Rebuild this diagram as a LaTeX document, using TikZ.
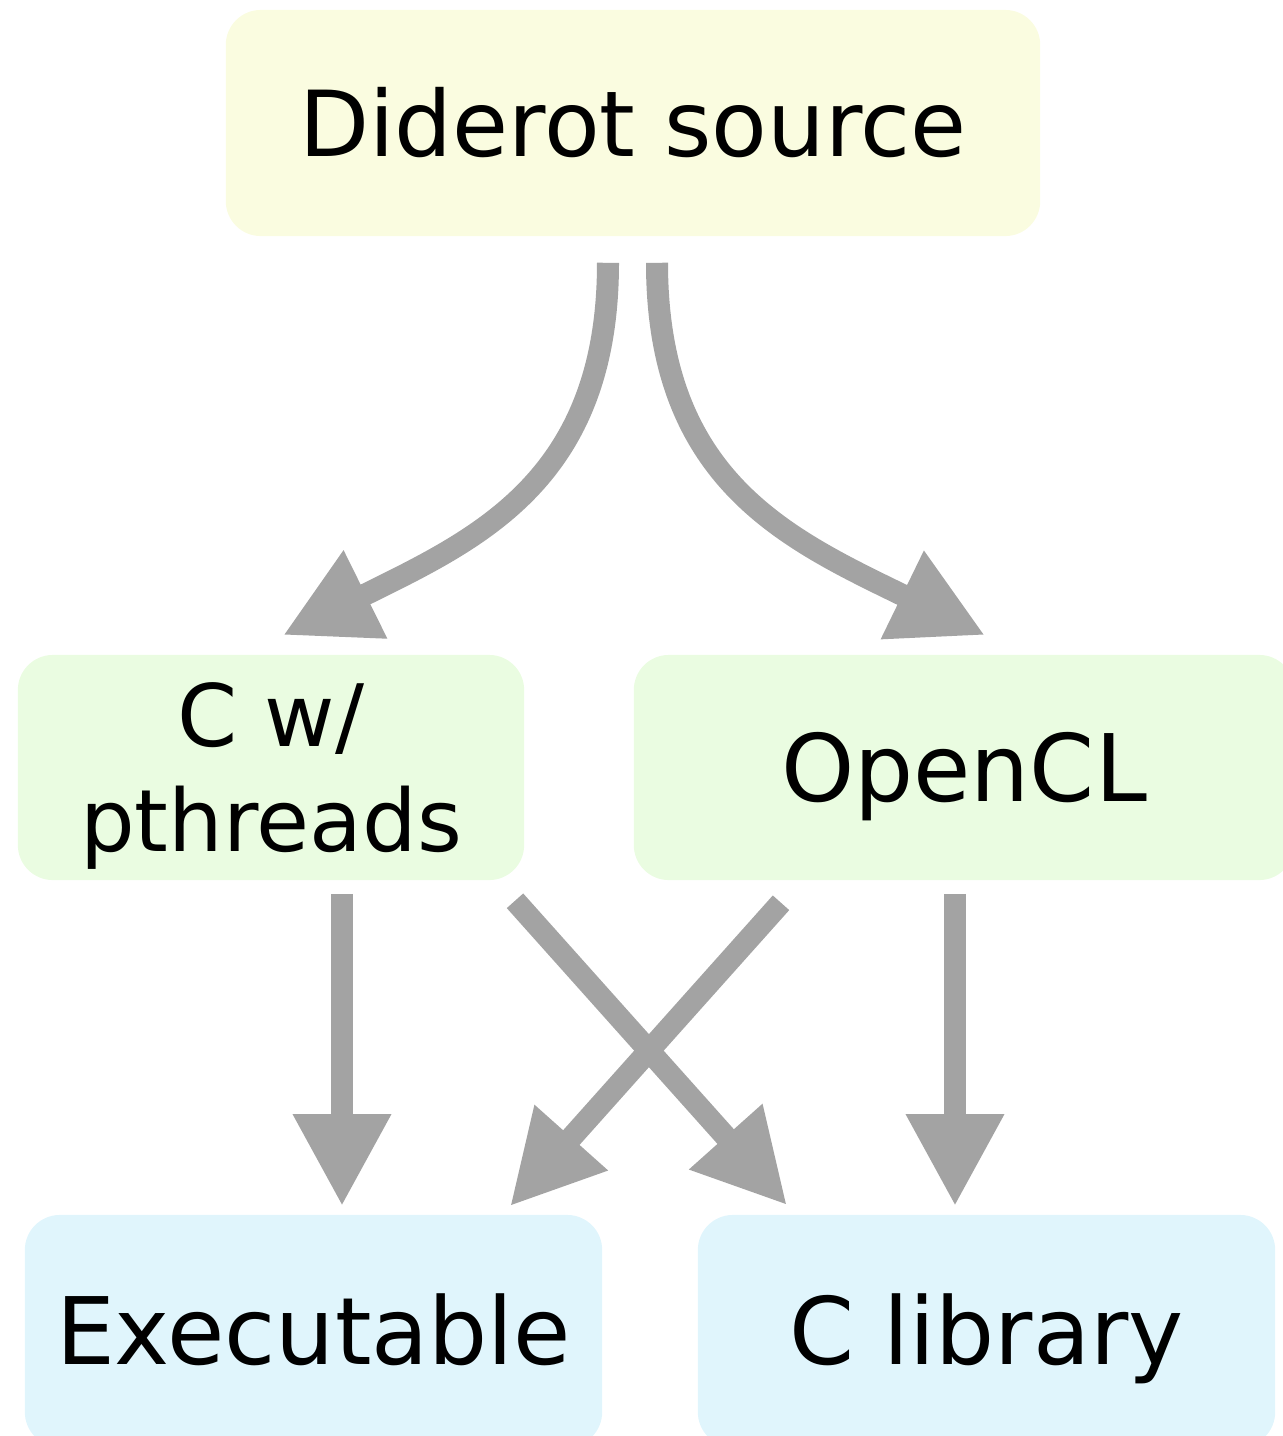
\documentclass[tikz,border=0pt]{standalone}
\usepackage{fontspec}
\setmainfont{DejaVu Sans}
\usetikzlibrary{arrows.meta,calc}
\definecolor{srcfill}{RGB}{250,252,224}
\definecolor{midfill}{RGB}{234,252,225}
\definecolor{outfill}{RGB}{224,245,252}
\definecolor{arrowgray}{RGB}{163,163,163}
\tikzset{
  box/.style={rectangle, rounded corners=0.35cm, draw=none, inner sep=0pt},
  bigtext/.style={font=\fontsize{26.5}{31}\selectfont, text height=19.3pt, text depth=0pt},
  flow/.style={draw=arrowgray, line width=0.22cm, line cap=butt,
    -{Triangle[length=0.92cm, width=0.92cm]}},
}
\begin{document}
\begin{tikzpicture}[x=0.01cm, y=-0.01cm]
\useasboundingbox (0,0) rectangle (1283,1436);
\node[box, fill=srcfill, minimum width=8.14cm, minimum height=2.26cm,
  font=\fontsize{25.9}{31}\selectfont, text height=18.9pt, text depth=0pt]
  (src) at (633,123) {Diderot source};
\node[box, fill=midfill, minimum width=5.06cm, minimum height=2.25cm, align=center,
  font=\fontsize{24.5}{29.6}\selectfont, text height=47.5pt, text depth=0pt]
  (pth) at (271,767.5) {C w/\\pthreads};
\node[box, bigtext, fill=midfill, minimum width=6.60cm, minimum height=2.25cm]
  (ocl) at (964,767.5) {OpenCL};
\node[box, bigtext, fill=outfill, minimum width=5.77cm, minimum height=2.32cm]
  (exe) at (313.5,1331) {Executable};
\node[box, bigtext, fill=outfill, minimum width=5.77cm, minimum height=2.32cm]
  (lib) at (986.5,1331) {C library};

\draw[flow] ($(src.south)+(-25,26)$) .. controls +(0,218) and +(194,-96) .. ($(pth.north)+(12,-19)$);
\draw[flow] ($(src.south)+(24,26)$) .. controls +(0,218) and +(-197,-96) .. ($(ocl.north)+(21,-19)$);
\draw[flow] ($(pth.south)+(71,13)$) -- ($(exe.north)+(28.5,-8)$);
\draw[flow] ($(ocl.south)+(-9,13)$) -- ($(lib.north)+(-31.5,-8)$);
\draw[flow] ($(pth.south)+(244,20)$) -- ($(lib.north)+(-199.5,-9)$);
\draw[flow] ($(ocl.south)+(-183,22)$) -- ($(exe.north)+(196.5,-8)$);
\end{tikzpicture}
\end{document}
